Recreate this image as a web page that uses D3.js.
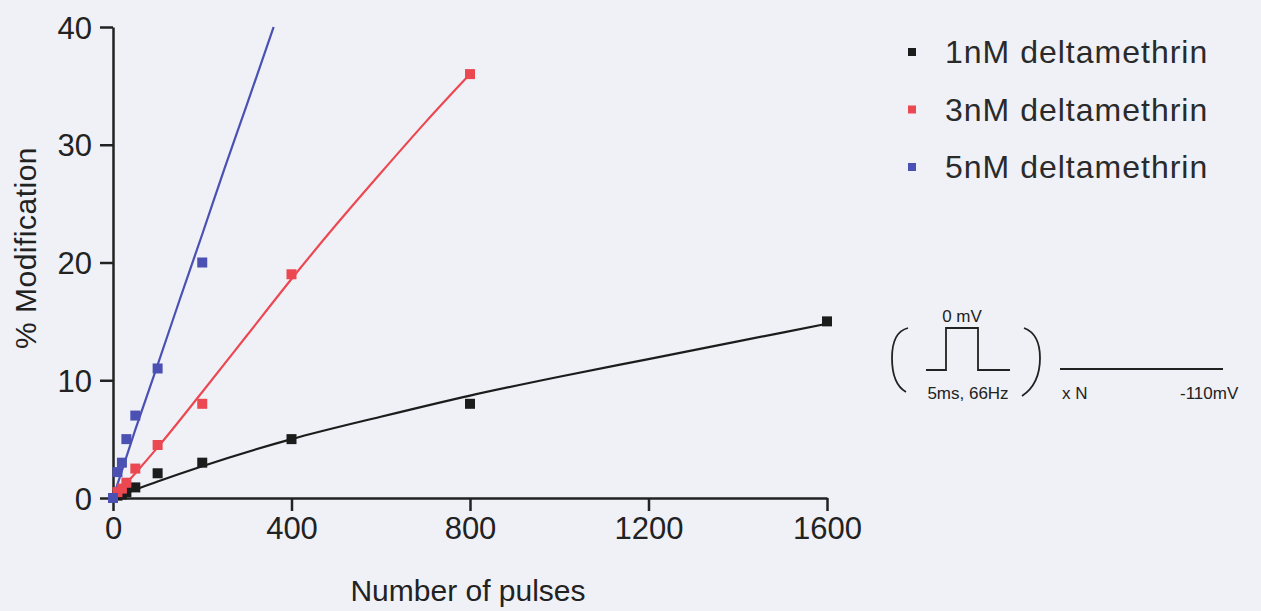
<!DOCTYPE html>
<html>
<head>
<meta charset="utf-8">
<script src="https://cdn.jsdelivr.net/npm/d3@7"></script>
<style>
  body { margin: 0; background: #eff1f7; }
  svg { display: block; font-family: "Liberation Sans", Arial, sans-serif; }
</style>
</head>
<body>
<svg id="chart" width="1261" height="611"></svg>
<script>
// data
var seriesNames = ["1nM deltamethrin", "3nM deltamethrin", "5nM deltamethrin"];
var seriesColors = ["#1c1c1c", "#ec4852", "#4b51b3"];

// measured points (pulses, % modification)
var pulses1 = [0, 10, 20, 30, 50, 100, 200, 400, 800, 1600];
var mod1    = [0, 0.2, 0.3, 0.5, 0.9, 2.1, 3.0, 5.0, 8.0, 15.0];
var pulses3 = [0, 10, 20, 30, 50, 100, 200, 400, 800];
var mod3    = [0, 0.5, 0.8, 1.3, 2.5, 4.5, 8.0, 19.0, 36.0];
var pulses5 = [0, 10, 20, 30, 50, 100, 200];
var mod5    = [0, 2.2, 3.0, 5.0, 7.0, 11.0, 20.0];

// fitted curves
var fitX1 = [0, 100, 200, 400, 600, 800, 1000, 1200, 1400, 1600];
var fitY1 = [0, 1.4, 2.7, 5.0, 6.9, 8.7, 10.3, 11.8, 13.3, 14.8];
var fitX3 = [0, 50, 100, 200, 300, 400, 500, 600, 700, 800];
var fitY3 = [0, 2.1, 4.3, 9.0, 13.8, 18.6, 23.2, 27.6, 31.9, 36.0];
var fitX5 = [0, 50, 100, 150, 200, 250, 300, 360];
var fitY5 = [0, 5.8, 11.3, 16.9, 22.4, 28.0, 33.4, 40.0];

var xTicks = [0, 400, 800, 1200, 1600];
var yTicks = [0, 10, 20, 30, 40];

var svg = d3.select("#chart");

var x = d3.scaleLinear().domain([0, 1600]).range([113, 827]);
var y = d3.scaleLinear().domain([0, 40]).range([498, 27]);

// axes
var xAxis = d3.axisBottom(x).tickValues(xTicks).tickFormat(d3.format("d"))
  .tickSize(13).tickSizeOuter(0).tickPadding(6);
var yAxis = d3.axisLeft(y).tickValues(yTicks).tickFormat(d3.format("d"))
  .tickSize(13).tickSizeOuter(0).tickPadding(8);

var gx = svg.append("g").attr("transform", "translate(0,498)").call(xAxis);
var gy = svg.append("g").attr("transform", "translate(113,0)").call(yAxis);

[gx, gy].forEach(function(g) {
  g.select(".domain").attr("stroke", "#222").attr("stroke-width", 2.5);
  g.selectAll(".tick line").attr("stroke", "#222").attr("stroke-width", 2.5);
  g.selectAll(".tick text").attr("fill", "#222").style("font-size", "31px")
    .style("font-family", "Liberation Sans, Arial, sans-serif");
});
gy.selectAll(".tick text").attr("dy", "0.36em");

svg.append("text")
  .attr("x", 468).attr("y", 601)
  .attr("text-anchor", "middle")
  .style("font-size", "30px").attr("fill", "#222")
  .text("Number of pulses");

svg.append("text")
  .attr("transform", "translate(36,248) rotate(-90)")
  .attr("text-anchor", "middle")
  .style("font-size", "30px").style("letter-spacing", "0.5px").attr("fill", "#222")
  .text("% Modification");

// curves + points
var fits = [[fitX1, fitY1], [fitX3, fitY3], [fitX5, fitY5]];
var pts = [[pulses1, mod1], [pulses3, mod3], [pulses5, mod5]];

var line = d3.line()
  .x(function(d) { return x(d[0]); })
  .y(function(d) { return y(d[1]); })
  .curve(d3.curveMonotoneX);

fits.forEach(function(f, i) {
  var data = f[0].map(function(v, j) { return [v, f[1][j]]; });
  svg.append("path")
    .datum(data)
    .attr("fill", "none")
    .attr("stroke", seriesColors[i])
    .attr("stroke-width", 2.2)
    .attr("d", line);
});

var sq = 10;
pts.forEach(function(p, i) {
  var data = p[0].map(function(v, j) { return [v, p[1][j]]; });
  svg.append("g").selectAll("rect")
    .data(data)
    .enter().append("rect")
    .attr("x", function(d) { return x(d[0]) - sq / 2; })
    .attr("y", function(d) { return y(d[1]) - sq / 2; })
    .attr("width", sq).attr("height", sq)
    .attr("fill", seriesColors[i]);
});

// legend
var legend = svg.append("g");
seriesNames.forEach(function(name, i) {
  var ly = 52 + i * 57.5;
  legend.append("rect")
    .attr("x", 908).attr("y", ly - 4).attr("width", 8).attr("height", 8)
    .attr("fill", seriesColors[i]);
  legend.append("text")
    .attr("x", 945).attr("y", ly + 11)
    .style("font-size", "32px").style("letter-spacing", "1px")
    .attr("fill", "#2a2a2a")
    .text(name);
});

// protocol inset
var ins = svg.append("g").attr("stroke", "#222").attr("fill", "none").attr("stroke-width", 1.8);
ins.append("path").attr("d", "M908,328 Q892,332 892,358 Q892,384 906,392");
ins.append("path").attr("d", "M1024,328 Q1040,334 1040,358 Q1040,384 1022,396");
ins.append("path").attr("d", "M926,370 H946 V328 H978 V370 H1010");
ins.append("path").attr("d", "M1060,369 H1223");

var insText = svg.append("g").attr("fill", "#222").style("font-size", "17px");
insText.append("text").attr("x", 962).attr("y", 322).attr("text-anchor", "middle").text("0 mV");
insText.append("text").attr("x", 968).attr("y", 399).attr("text-anchor", "middle").text("5ms, 66Hz");
insText.append("text").attr("x", 1062).attr("y", 399).text("x N");
insText.append("text").attr("x", 1180).attr("y", 399).text("-110mV");
</script>
</body>
</html>
